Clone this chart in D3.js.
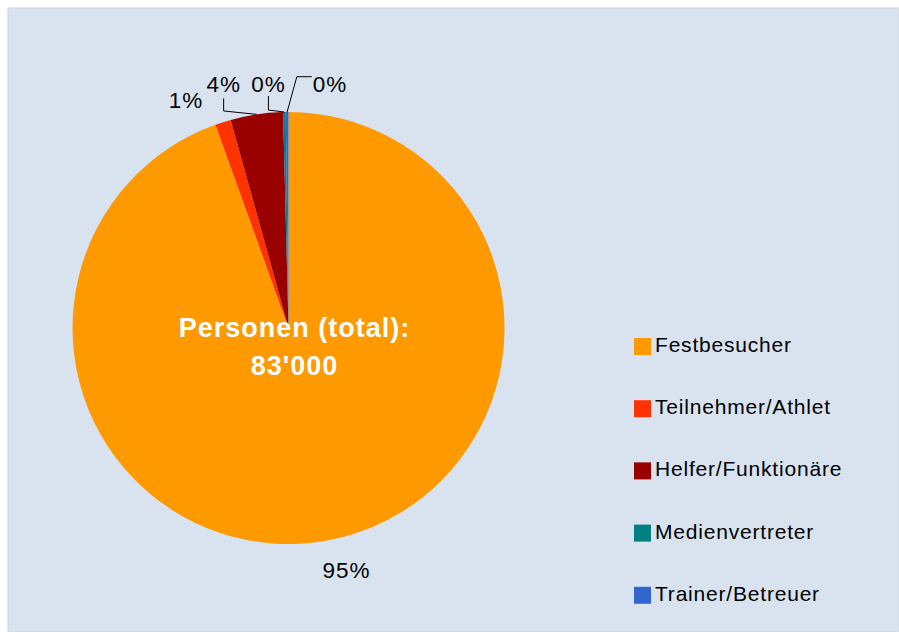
<!DOCTYPE html>
<html>
<head>
<meta charset="utf-8">
<script src="https://cdn.jsdelivr.net/npm/d3@7"></script>
<style>
  body { margin: 0; background: #fff; }
  svg { display: block; }
  text { font-family: "Liberation Sans", Arial, sans-serif; }
</style>
</head>
<body>
<script>
// Data
const categories = ['Festbesucher', 'Teilnehmer/Athlet', 'Helfer/Funktionäre', 'Medienvertreter', 'Trainer/Betreuer'];
const persons = [78440, 980, 3250, 160, 170];
const colors = ['#ff9900', '#ff3300', '#990000', '#008080', '#3366cc'];
const centerTitle = 'Personen (total):';

// Layout
const width = 899;
const height = 632;
const cx = 288.5;
const cy = 328;
const radius = 216;

// label offsets relative to the rim point at each slice's mid angle
// (x = text centre, y = baseline), leader = polyline points after the rim point
const labelLayout = [
    { dx: 21, dy: 37, leader: null },
    { dx: -37, dy: -14, leader: null },
    { dx: -33, dy: -22.7, leader: [[-33, -3.4], [-33, -16]] },
    { dx: -16, dy: -20.3, leader: [[-16, -2], [-16, -16]] },
    { dx: 43, dy: -20.3, leader: [[9.7, -35.3], [24.7, -35.3]] }
];

const svg = d3.select('body')
.append('svg')
.attr('width', width)
.attr('height', height);

// background panel
svg.append('rect')
.attr('x', 8)
.attr('y', 8)
.attr('width', width - 8)
.attr('height', height - 8)
.attr('fill', '#d9e3ef')
.attr('stroke', '#cfd6df')
.attr('stroke-width', 1);

const total = d3.sum(persons);
const data = categories.map((c, i) => ({ name: c, value: persons[i], color: colors[i] }));

const pie = d3.pie()
.value(d => d.value)
.sort(null);

const arc = d3.arc()
.innerRadius(0)
.outerRadius(radius);

const arcs = pie(data);

const g = svg.append('g')
.attr('transform', `translate(${ cx },${ cy })`);

g.selectAll('path')
.data(arcs)
.enter()
.append('path')
.attr('d', arc)
.attr('fill', d => d.data.color);

// rim point at mid angle
function rim(d) {
    const a = (d.startAngle + d.endAngle) / 2;
    return [radius * Math.sin(a), -radius * Math.cos(a)];
}

// leader lines
g.selectAll('polyline')
.data(arcs.filter((d, i) => labelLayout[i].leader))
.enter()
.append('polyline')
.attr('points', d => {
    const p = rim(d);
    const pts = [p].concat(labelLayout[d.index].leader.map(o => [p[0] + o[0], p[1] + o[1]]));
    return pts.map(q => q.join(',')).join(' ');
})
.attr('fill', 'none')
.attr('stroke', '#000')
.attr('stroke-width', 1);

// percentage labels
g.selectAll('text.pct')
.data(arcs)
.enter()
.append('text')
.attr('class', 'pct')
.attr('x', d => rim(d)[0] + labelLayout[d.index].dx)
.attr('y', d => rim(d)[1] + labelLayout[d.index].dy)
.attr('text-anchor', 'middle')
.attr('font-size', '22.5px')
.attr('letter-spacing', '1px')
.attr('fill', '#000')
.text(d => Math.round(d.value / total * 100) + '%');

// centre text
const swiss = d3.formatLocale({ decimal: '.', thousands: '\'', grouping: [3], currency: ['', ''] });

const center = g.append('text')
.attr('text-anchor', 'middle')
.attr('font-size', '27px')
.attr('font-weight', 'bold')
.attr('letter-spacing', '1px')
.attr('fill', '#fff');

center.append('tspan')
.attr('x', 6)
.attr('y', 9)
.text(centerTitle);

center.append('tspan')
.attr('x', 6)
.attr('y', 47)
.text(swiss.format(',')(total));

// legend
const legend = svg.selectAll('g.legend')
.data(data)
.enter()
.append('g')
.attr('class', 'legend')
.attr('transform', (d, i) => `translate(634,${ 338 + i * 62.2 })`);

legend.append('rect')
.attr('width', 17)
.attr('height', 17)
.attr('fill', d => d.color);

legend.append('text')
.attr('x', 21)
.attr('y', 14)
.attr('font-size', '21px')
.attr('letter-spacing', '0.8px')
.attr('fill', '#000')
.text(d => d.name);
</script>
</body>
</html>
